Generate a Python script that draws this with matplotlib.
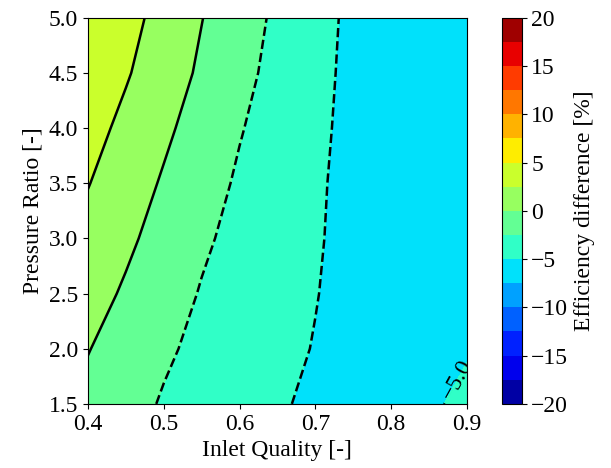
import numpy as np
import matplotlib
matplotlib.use("Agg")
import matplotlib.pyplot as plt

plt.rcParams["font.family"] = ["Liberation Serif", "DejaVu Serif"]
plt.rcParams["font.size"] = 17

# Grid: inlet quality (x) and pressure ratio (y)
inlet_quality = [0.40, 0.45, 0.50, 0.55, 0.60, 0.65, 0.70, 0.75, 0.80, 0.85, 0.90]
pressure_ratio = [1.5, 2.0, 2.5, 3.0, 3.5, 4.0, 4.5, 5.0]

# Efficiency difference [%], one row per pressure ratio
eff_diff = [
    [-0.66, -1.73, -2.69, -3.37, -4.06, -4.74, -5.42, -5.55, -5.45, -5.10, -4.85],
    [0.09, -1.05, -2.18, -3.00, -3.70, -4.40, -5.10, -5.60, -5.55, -5.35, -5.05],
    [0.92, -0.29, -1.50, -2.64, -3.40, -4.16, -4.92, -5.72, -5.80, -5.70, -5.55],
    [1.74, 0.44, -0.86, -2.16, -3.12, -3.96, -4.80, -5.63, -5.85, -5.85, -5.75],
    [2.59, 1.16, -0.24, -1.57, -2.79, -3.74, -4.69, -5.66, -5.90, -5.90, -5.85],
    [3.38, 1.91, 0.44, -0.97, -2.36, -3.46, -4.53, -5.60, -5.90, -5.95, -5.90],
    [4.26, 2.72, 1.17, -0.36, -1.85, -3.17, -4.36, -5.55, -5.90, -5.95, -5.95],
    [4.90, 3.30, 1.69, 0.06, -1.46, -2.91, -4.20, -5.49, -5.90, -6.00, -6.00],
]

levels = np.arange(-20, 20.01, 2.5)

X, Y = np.meshgrid(inlet_quality, pressure_ratio)
Z = np.array(eff_diff)

fig = plt.figure(figsize=(6.11, 4.68), dpi=100)
ax = fig.add_axes([0.144, 0.137, 0.620, 0.825])
cax = fig.add_axes([0.821, 0.137, 0.0327, 0.825])

cf = ax.contourf(X, Y, Z, levels=levels, cmap="jet")
cs = ax.contour(X, Y, Z, levels=levels, colors="k", linewidths=1.8)
ax.clabel(cs, fmt=lambda v: f"{v:.1f}".replace("-", "\u2212"), fontsize=17,
          manual=[(0.886, 1.72)])

ax.set_xlim(0.4, 0.9)
ax.set_ylim(1.5, 5.0)
ax.set_xticks(np.arange(0.4, 0.91, 0.1))
ax.set_yticks(np.arange(1.5, 5.01, 0.5))
ax.xaxis.set_major_formatter(matplotlib.ticker.FormatStrFormatter("%.1f"))
ax.yaxis.set_major_formatter(matplotlib.ticker.FormatStrFormatter("%.1f"))
ax.set_xlabel("Inlet Quality [-]")
ax.set_ylabel("Pressure Ratio [-]")

cb = fig.colorbar(cf, cax=cax)
cb.set_ticks(np.arange(-20, 21, 5))
cb.set_label("Efficiency difference [%]")

fig.savefig("out.png", dpi=100, facecolor="white")
